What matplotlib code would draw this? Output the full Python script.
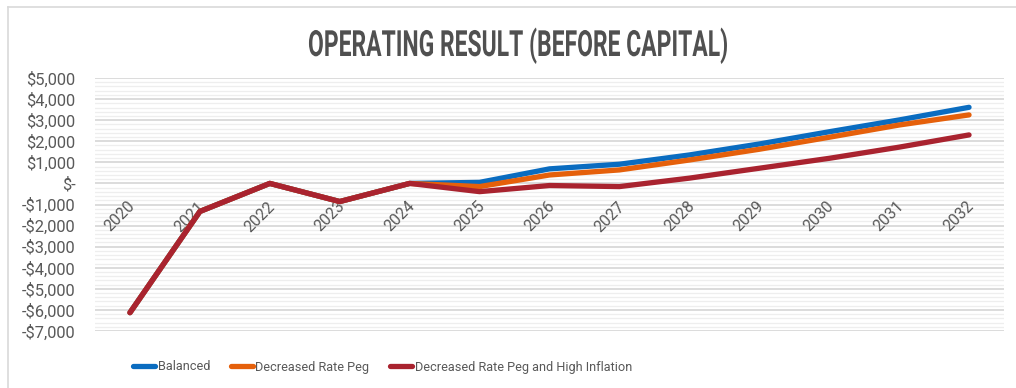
import matplotlib
matplotlib.use("Agg")
import matplotlib.pyplot as plt
from matplotlib.ticker import MultipleLocator, FixedLocator
from matplotlib.lines import Line2D
from matplotlib.transforms import Affine2D
from matplotlib.patheffects import AbstractPathEffect
from matplotlib import font_manager as fm

years = ["2020", "2021", "2022", "2023", "2024", "2025", "2026", "2027",
         "2028", "2029", "2030", "2031", "2032"]
balanced = [-6130, -1330, 0, -860, 0, 50, 690, 910, 1350, 1870, 2450, 3010, 3610]
decreased_peg = [-6130, -1330, 0, -860, 0, -150, 400, 640, 1110, 1620, 2190, 2770, 3250]
peg_high_infl = [-6130, -1330, 0, -860, 0, -390, -100, -150, 250, 720, 1190, 1720, 2300]
series_names = ["Balanced", "Decreased Rate Peg", "Decreased Rate Peg and High Inflation"]
colors = ["#0A6CC0", "#E5600B", "#A9232F"]
y_ticks = [5000, 4000, 3000, 2000, 1000, 0, -1000, -2000, -3000, -4000, -5000, -6000, -7000]
title = "OPERATING RESULT (BEFORE CAPITAL)"

names = {f.name for f in fm.fontManager.ttflist}
narrow = "Liberation Sans Narrow" in names
body_font = "Liberation Sans Narrow" if narrow else "Roboto"
k = 1.0 if narrow else 0.88


class HSqueeze(AbstractPathEffect):
    """Horizontally condense glyph outlines of a text (keeps it a real Text)."""
    def __init__(self, sx):
        super().__init__()
        self.sx = sx

    def draw_path(self, renderer, gc, tpath, affine, rgbFace=None):
        renderer.draw_path(gc, tpath, Affine2D().scale(self.sx, 1.0) + affine, rgbFace)


W, H = 1016, 388
fig = plt.figure(figsize=(W / 100, H / 100), dpi=100)
plt.rcParams["font.family"] = [body_font, "DejaVu Sans"]

fig.add_artist(Line2D([8 / W, 8 / W], [0, 1 - 7 / H], color="#d9d9d9", lw=1.2, transform=fig.transFigure))
fig.add_artist(Line2D([8 / W, 1], [1 - 7 / H, 1 - 7 / H], color="#d9d9d9", lw=1.2, transform=fig.transFigure))

ax = fig.add_axes([95 / W, 1 - 331 / H, (1004 - 95) / W, (331 - 78) / H])
x = list(range(len(years)))
series = [balanced, decreased_peg, peg_high_infl]
for vals, c, name, z in zip(series, colors, series_names, [3, 4, 5]):
    ax.plot(x, vals, color=c, lw=3.8, solid_capstyle="round", solid_joinstyle="round",
            label=name, zorder=z)

ax.set_xlim(-0.5, len(years) - 0.5)
ax.set_ylim(-7000, 5000)
ax.yaxis.set_major_locator(FixedLocator(y_ticks))
ax.yaxis.set_minor_locator(MultipleLocator(200))
ax.grid(which="major", axis="y", color="#d9d9d9", lw=1.3, zorder=0)
ax.grid(which="minor", axis="y", color="#eeeeee", lw=0.9, zorder=0)
ax.set_axisbelow(True)
for s in ax.spines.values():
    s.set_visible(False)


def fmt(v):
    if v == 0:
        return "$-"
    if v < 0:
        return "-${:,}".format(-v)
    return "${:,}".format(v)


ax.set_yticklabels([fmt(v) for v in y_ticks])
ax.tick_params(axis="y", which="both", length=0, pad=14, labelsize=13.5 * k, labelcolor="#595959")

ax.set_xticks([])
for i, yr in enumerate(years):
    ax.annotate(yr, xy=(i, 0), xytext=(-2, -11), textcoords="offset points",
                rotation=45, ha="right", va="top", rotation_mode="anchor",
                fontsize=13 * k, color="#595959")

t = fig.text(308 / W, 1 - 56 / H, title, ha="left", va="baseline",
             fontsize=26, fontweight="bold", color="#505050",
             family=[body_font, "DejaVu Sans"])
r = fig.canvas.get_renderer()
w = t.get_window_extent(r).width
t.set_path_effects([HSqueeze(420.0 / w)])

handles = [Line2D([0], [0], color=c, lw=3.8, solid_capstyle="round") for c in colors]
fig.legend(handles, series_names, loc="center left",
           bbox_to_anchor=(133 / W, 1 - 367 / H), ncol=3, frameon=False,
           fontsize=10.4 * k, handlelength=1.75, handletextpad=0.2, columnspacing=1.6,
           borderpad=0, borderaxespad=0, labelcolor="#595959")

fig.savefig("out.png", dpi=100)
